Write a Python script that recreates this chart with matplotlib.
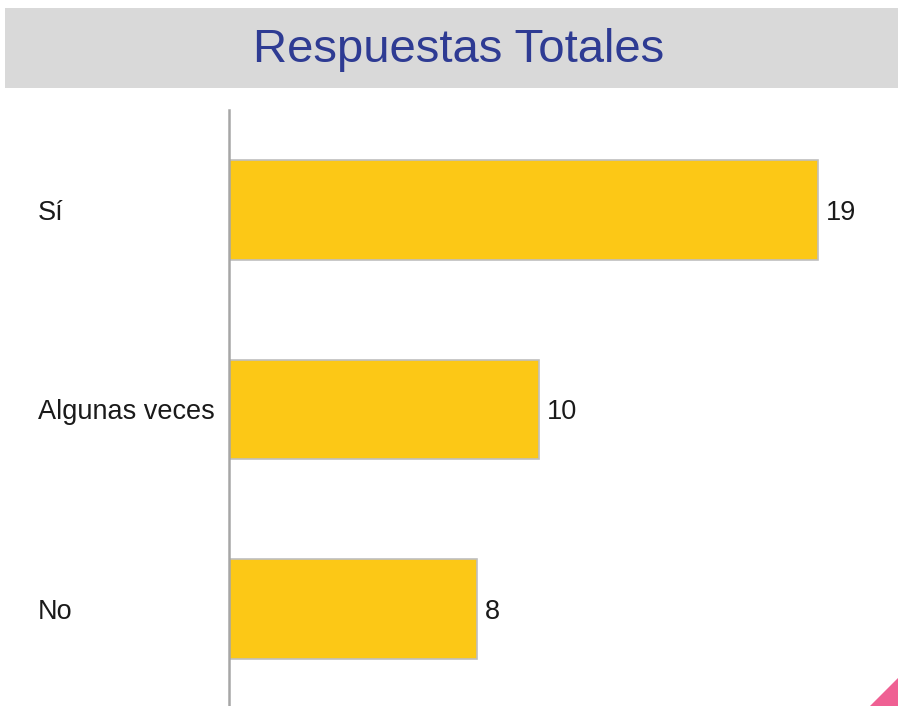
import matplotlib.pyplot as plt
from matplotlib.patches import Rectangle, Polygon
from matplotlib.transforms import blended_transform_factory

plt.rcParams['font.family'] = ['Liberation Sans', 'DejaVu Sans']

categories = ["Sí", "Algunas veces", "No"]
values = [19, 10, 8]
title = "Respuestas Totales"

W, H = 898, 706
fig = plt.figure(figsize=(W / 100, H / 100), dpi=100)

# gray title band
fig.patches.append(Rectangle((5 / W, 1 - 88 / H), 893 / W, 80 / H,
                             transform=fig.transFigure, facecolor="#d9d9d9",
                             edgecolor="none"))
fig.text(459 / W, 1 - 50 / H, title, ha="center", va="center",
         fontsize=34, color="#2e3b93")

# pink corner triangle
fig.patches.append(Polygon([(870 / W, 0), (1, 28 / H), (1, 0)], closed=True,
                           transform=fig.transFigure, facecolor="#ef6093",
                           edgecolor="none"))

ax = fig.add_axes([229 / W, 0, 651 / W, 596 / H])
ypos = list(range(len(categories)))
ax.barh(ypos, values, height=0.5, color="#fcc816", edgecolor="#bfbfbf",
        linewidth=1.2)
for y, v in zip(ypos, values):
    ax.text(v + 0.25, y, str(v), va="center_baseline", ha="left",
            fontsize=19.5, color="#1a1a1a")

ax.set_xlim(0, 21)
ax.set_ylim(2.485, -0.5)
ax.set_xticks([])
ax.set_yticks([])
for s in ["top", "right", "bottom"]:
    ax.spines[s].set_visible(False)
ax.spines["left"].set_color("#a6a6a6")
ax.spines["left"].set_linewidth(1.8)

# category labels, x in figure coords, y in data coords
lab_tr = blended_transform_factory(fig.transFigure, ax.transData)
for y, c in zip(ypos, categories):
    ax.text(38 / W, y, c, transform=lab_tr, va="center_baseline",
            ha="left", fontsize=19.5, color="#1a1a1a")

fig.savefig("out.png", dpi=100)
